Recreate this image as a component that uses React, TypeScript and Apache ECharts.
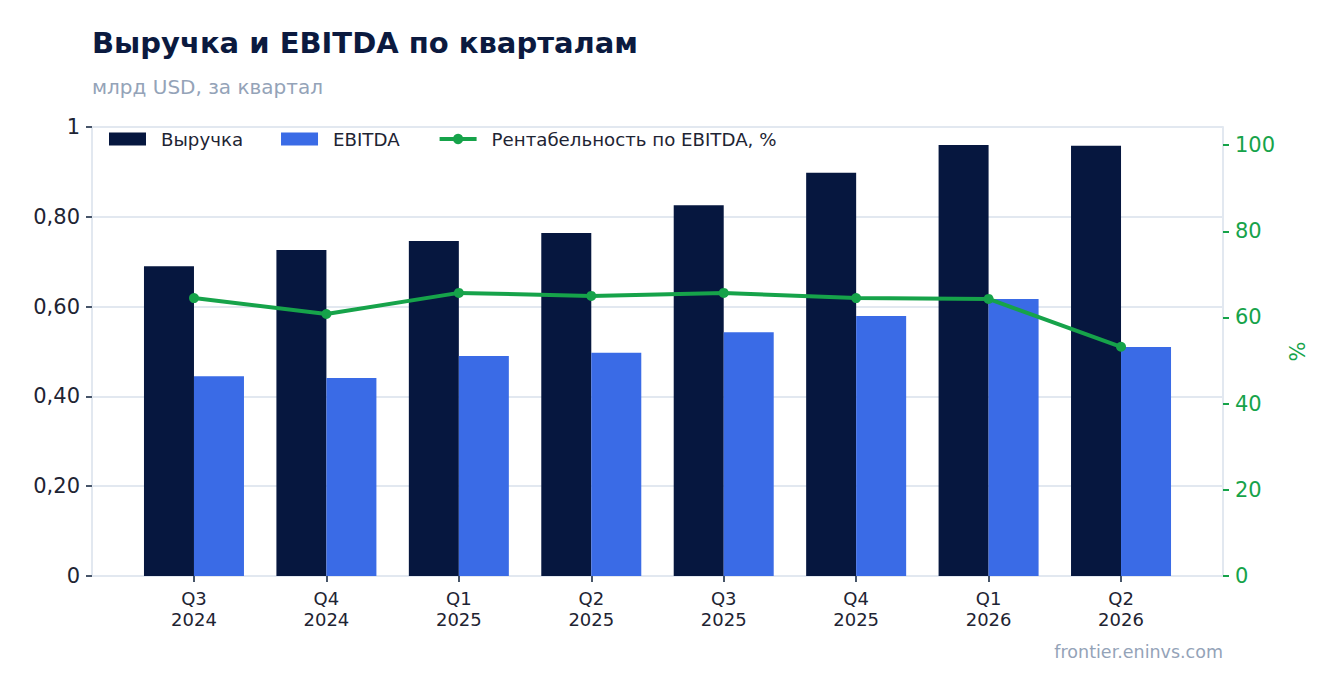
import { useEffect, useRef } from "react";
import * as echarts from "echarts";

const quarters = ["Q3\n2024", "Q4\n2024", "Q1\n2025", "Q2\n2025", "Q3\n2025", "Q4\n2025", "Q1\n2026", "Q2\n2026"];
const revenue = [0.69, 0.726, 0.746, 0.764, 0.826, 0.898, 0.96, 0.958];
const ebitda = [0.445, 0.441, 0.49, 0.497, 0.543, 0.579, 0.617, 0.51];
const margin = [64.5, 60.8, 65.7, 65.0, 65.7, 64.5, 64.3, 53.2];
const rightTicks = [0, 20, 40, 60, 80, 100];

const FONT = "DejaVu Sans";
const NAVY = "#06173f";
const BLUE = "#3a6be6";
const GREEN = "#16a34a";
const GRID_LINE = "#e2e8f0";
const TEXT = "#1e2433";
const MUTED = "#94a3b8";

export default function App() {
  const chartRef = useRef<HTMLDivElement>(null);

  useEffect(() => {
    if (!chartRef.current) return;
    const chart = echarts.init(chartRef.current, null, { renderer: "svg" });
    const idx = quarters.map((_, i) => i);

    chart.setOption({
      animation: false,
      backgroundColor: "#ffffff",
      textStyle: { fontFamily: FONT },
      title: [
        {
          text: "Выручка и EBITDA по кварталам",
          left: 92,
          top: 28,
          padding: 0,
          textStyle: { fontFamily: FONT, fontSize: 29, fontWeight: "bold", color: "#0b1a3f" },
        },
        {
          text: "млрд USD, за квартал",
          left: 92,
          top: 77,
          padding: 0,
          textStyle: { fontFamily: FONT, fontSize: 20, fontWeight: "normal", color: MUTED },
        },
      ],
      legend: {
        left: 109,
        top: 130,
        padding: 0,
        itemWidth: 37,
        itemHeight: 13,
        itemGap: 38,
        textStyle: { fontFamily: FONT, fontSize: 18.2, color: TEXT, padding: [0, 0, 0, 10] },
        data: [
          { name: "Выручка", icon: "rect" },
          { name: "EBITDA", icon: "rect" },
          { name: "Рентабельность по EBITDA, %", lineStyle: { width: 4, color: GREEN } },
        ],
      },
      grid: { left: 92, right: 113, top: 127, bottom: 117 },
      xAxis: {
        type: "value",
        min: -0.77,
        max: 7.77,
        axisLine: { show: true, onZero: false, lineStyle: { color: GRID_LINE, width: 2 } },
        axisTick: { show: true, customValues: idx, length: 6, lineStyle: { color: "#475569", width: 2 } },
        axisLabel: {
          customValues: idx,
          formatter: (v: number) => quarters[Math.round(v)] ?? "",
          fontFamily: FONT,
          fontSize: 18,
          lineHeight: 21,
          color: TEXT,
          margin: 12,
        },
        splitLine: { show: false },
      },
      yAxis: [
        {
          type: "value",
          min: 0,
          max: 1,
          interval: 0.2,
          position: "left",
          axisLine: { show: true, onZero: false, lineStyle: { color: GRID_LINE, width: 2 } },
          axisTick: { show: true, length: 6, lineStyle: { color: "#475569", width: 2 } },
          axisLabel: {
            fontFamily: FONT,
            fontSize: 21,
            color: TEXT,
            margin: 12,
            formatter: (v: number) => {
              const r = Math.round(v * 100) / 100;
              if (r === 0) return "0";
              if (r === 1) return "1";
              return r.toFixed(2).replace(".", ",");
            },
          },
          splitLine: { show: true, lineStyle: { color: GRID_LINE, width: 2 } },
        },
        {
          type: "value",
          min: 0,
          max: 104.2,
          position: "right",
          name: "%",
          nameLocation: "middle",
          nameGap: 64,
          nameRotate: 90,
          nameTextStyle: { fontFamily: FONT, fontSize: 21, color: GREEN },
          axisLine: { show: true, onZero: false, lineStyle: { color: GRID_LINE, width: 2 } },
          axisTick: { show: true, customValues: rightTicks, length: 6, lineStyle: { color: GREEN, width: 2 } },
          axisLabel: {
            customValues: rightTicks,
            fontFamily: FONT,
            fontSize: 21,
            color: GREEN,
            margin: 12,
          },
          splitLine: { show: false },
        },
      ],
      series: [
        {
          name: "Выручка",
          type: "bar",
          barWidth: 50,
          barGap: "0%",
          itemStyle: { color: NAVY },
          data: revenue.map((v, i) => [i, v]),
        },
        {
          name: "EBITDA",
          type: "bar",
          barWidth: 50,
          barGap: "0%",
          itemStyle: { color: BLUE },
          data: ebitda.map((v, i) => [i, v]),
        },
        {
          name: "Рентабельность по EBITDA, %",
          type: "line",
          yAxisIndex: 1,
          symbol: "circle",
          symbolSize: 10,
          lineStyle: { color: GREEN, width: 4 },
          itemStyle: { color: GREEN },
          data: margin.map((v, i) => [i, v]),
          z: 5,
        },
      ],
      graphic: [
        {
          type: "text",
          right: 113,
          top: 643,
          style: { text: "frontier.eninvs.com", fontFamily: FONT, fontSize: 17.5, fill: MUTED },
        },
      ],
    });

    return () => chart.dispose();
  }, []);

  return (
    <div
      ref={chartRef}
      style={{ position: "fixed", left: 0, top: 0, width: 1336, height: 693 }}
    />
  );
}
